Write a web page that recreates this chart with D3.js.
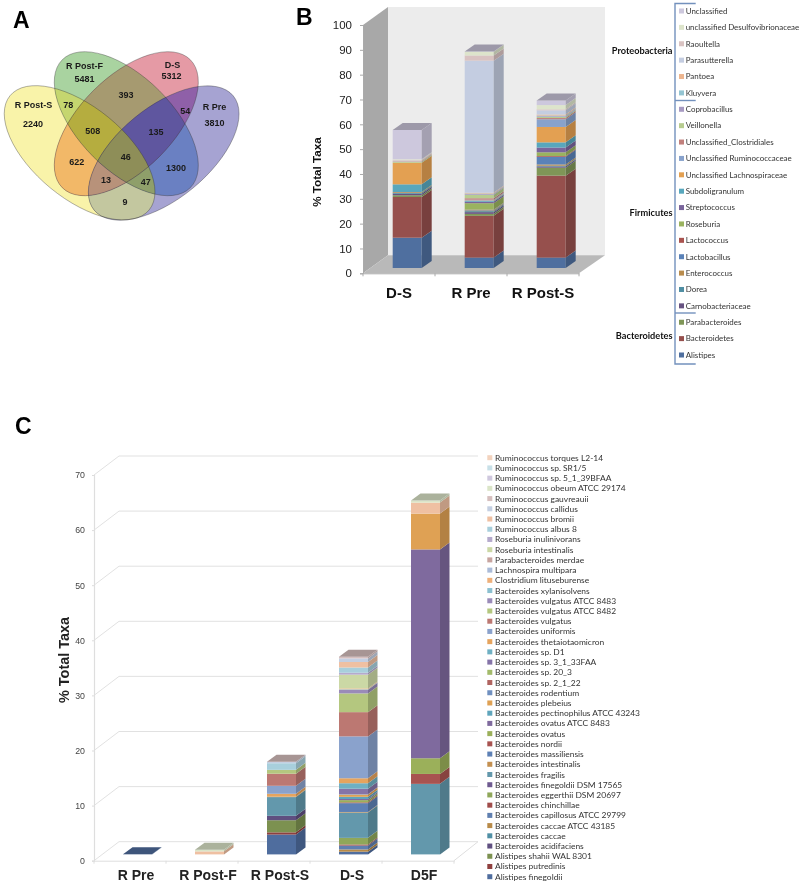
<!DOCTYPE html>
<html><head><meta charset="utf-8">
<script src="https://cdnjs.cloudflare.com/ajax/libs/d3/7.8.5/d3.min.js"></script>
<style>html,body{margin:0;padding:0;background:#fff}svg{display:block;filter:blur(0.3px)}</style>
</head><body><svg id="c" width="800" height="885"></svg>
<script>
// ---------- Panel A data
const vennSets = ["R Post-S","R Post-F","D-S","R Pre"];
const vennSetCounts = [2240,5481,5312,3810];
const vennOverlapCounts = [78,393,54,508,135,622,46,1300,13,47,9];

// ---------- Panel B data
const categoriesB = ["D-S","R Pre","R Post-S"];
const yTicksB = [0,10,20,30,40,50,60,70,80,90,100];
const taxaB = ["Alistipes","Bacteroidetes","Parabacteroides","Carnobacteriaceae","Dorea","Enterococcus","Lactobacillus","Lactococcus","Roseburia","Streptococcus","Subdoligranulum","Unclassified Lachnospiraceae","Unclassified Ruminococcaceae","Unclassified_Clostridiales","Veillonella","Coprobacillus","Kluyvera","Pantoea","Parasutterella","Raoultella","unclassified Desulfovibrionaceae","Unclassified"];
const valuesB_DS =     [12.2,16.4,0.7,0.6,0.4,0.3,0,0,0,0,3.1,8.7,0,0,0.4,0.2,0,0.3,0.2,0.1,0.2,11.8];
const valuesB_RPre =   [4.2,16.8,0.8,0.7,0.4,0.3,0.2,0.1,2.6,0.6,0.3,0.2,0.3,0.6,1.4,0.3,0.2,0.3,53.2,2.1,1.5,0.1];
const valuesB_RPostS = [4.2,33,3.2,0.5,0.3,0.5,3.1,0.3,1.5,1.9,2.1,6.2,3.1,0.5,0.4,0.3,0.3,0.4,1.7,0.4,1.7,1.9];
const colorsB = ["#4f6f9f","#96504d","#7f9657","#675382","#4f8ea3","#b98c4d","#5a82b8","#a9534f","#9ab35f","#7a659c","#58a7bd","#e3a052","#88a2cc","#c1807c","#b7cc90","#a79ac2","#93c4d2","#edb58f","#c4cde1","#d9c3c2","#dde4cb","#cdc8dd"];
const phylumNames = ["Proteobacteria","Firmicutes","Bacteroidetes"];

// ---------- Panel C data
const categoriesC = ["R Pre","R Post-F","R Post-S","D-S","D5F"];
const yTicksC = [0,10,20,30,40,50,60,70];
const taxaC = ["Alistipes finegoldii","Alistipes putredinis","Alistipes shahii WAL 8301","Bacteroides acidifaciens","Bacteroides caccae","Bacteroides caccae ATCC 43185","Bacteroides capillosus ATCC 29799","Bacteroides chinchillae","Bacteroides eggerthii DSM 20697","Bacteroides finegoldii DSM 17565","Bacteroides fragilis","Bacteroides intestinalis","Bacteroides massiliensis","Bacteroides nordii","Bacteroides ovatus","Bacteroides ovatus ATCC 8483","Bacteroides pectinophilus ATCC 43243","Bacteroides plebeius","Bacteroides rodentium","Bacteroides sp. 2_1_22","Bacteroides sp. 20_3","Bacteroides sp. 3_1_33FAA","Bacteroides sp. D1","Bacteroides thetaiotaomicron","Bacteroides uniformis","Bacteroides vulgatus","Bacteroides vulgatus ATCC 8482","Bacteroides vulgatus ATCC 8483","Bacteroides xylanisolvens","Clostridium lituseburense","Lachnospira multipara","Parabacteroides merdae","Roseburia intestinalis","Roseburia inulinivorans","Ruminococcus albus 8","Ruminococcus bromii","Ruminococcus callidus","Ruminococcus gauvreauii","Ruminococcus obeum ATCC 29174","Ruminococcus sp. 5_1_39BFAA","Ruminococcus sp. SR1/5","Ruminococcus torques L2-14"];
const valuesC_RPre =   [0.02,0,0,0,0,0,0,0,0,0,0,0,0,0,0,0,0,0,0,0,0,0,0,0,0,0,0,0,0,0,0,0,0,0,0,0,0,0,0,0,0,0];
const valuesC_RPostF = [0,0,0,0,0,0,0,0,0,0,0,0,0,0,0,0,0,0,0,0,0,0,0,0,0,0,0,0,0,0,0,0,0,0,0,0.55,0,0,0.3,0,0,0];
const valuesC_RPostS = [3.6,0.4,2.2,0.8,0,0,0,0,0,0,3.4,0.1,0,0,0,0,0,0,0,0,0,0,0,0.5,1.45,2.2,0.7,0,0,0,0,0,0,0,1.2,0,0.25,0.02,0,0,0,0];
const valuesC_DS =     [0.5,0,0,0,0,0.4,0.7,0.2,1.2,0,4.6,0.1,1.6,0.15,0.4,0.2,0.4,0.4,0.07,0,0,1.0,1.0,0.9,7.6,4.4,3.4,0.65,0.1,0.15,0,0,2.5,0.35,0.95,1.0,0.65,0.3,0,0,0,0];
const valuesC_D5F =    [0,0,0,0,0,0,0,0,0,0,12.8,0,0,1.8,2.85,37.9,0,6.5,0,0,0,0,0,0,0,0,0,0,0,0,0,0,0,0,0,2.0,0,0,0.36,0,0,0];
const colorsC = ["#4f6d9e","#8f3f3e","#7c9150","#5f4f80","#4f8fa5","#b88a48","#5f7fb0","#a04c4a","#8fa75a","#6e5a90","#6398ac","#c49050","#5d80b5","#a85350","#9bb05a","#7f6a9e","#5fa5bc","#dfa154","#7090c0","#b06460","#a3bb6b","#8574a8","#6fb0c3","#e6a45e","#8aa2cc","#bc7872","#b4c77f","#9a8bb8","#8cc0d0","#eeb07a","#aabbd8","#c7a49f","#cbd8a5","#b5aacc","#a8cfdc","#efc0a2","#c4cfe2","#d6bfbe","#dbe5c8","#cfc8de","#c8e0e8","#f3d3be"];

// ---------- helpers
const svg = d3.select("#c");
const SANS = "'Liberation Sans',Arial,sans-serif", LAT = "Lato,'Open Sans',sans-serif";
const txt = (g,x,y,s,o={}) => g.append("text").attr("x",x).attr("y",y).text(s)
  .attr("font-family",o.f||SANS).attr("font-size",o.s||10).attr("font-weight",o.w||"normal")
  .attr("fill",o.c||"#1a1a1a").attr("text-anchor",o.a||"start");
const poly = pts => pts.map(p=>p.join(",")).join(" ");
const shade = (c,k) => d3.rgb(c).darker(k).formatHex();

function stackBars(g, cats, keys, colors, series, x, y, o){
  const rows = cats.map((c,i)=>{const r={cat:c}; keys.forEach((k,j)=>r[k]=series[i][j]); return r;});
  const layers = d3.stack().keys(keys)(rows);
  cats.forEach((c,i)=>{
    const bar = g.append("g").attr("class","bar");
    const x0 = x(c)+o.shiftX, w = o.barW, dx = o.depthX, dy = o.depthY;
    let top = null;
    layers.forEach((l,j)=>{
      const d = l[i]; if(d[1]-d[0] <= 0) return;
      const y0 = y(d[0])-o.shiftY, y1 = y(d[1])-o.shiftY;
      bar.append("rect").attr("x",x0).attr("y",y1).attr("width",w).attr("height",y0-y1).attr("fill",colors[j]);
      bar.append("polygon").attr("points",poly([[x0+w,y0],[x0+w+dx,y0-dy],[x0+w+dx,y1-dy],[x0+w,y1]])).attr("fill",shade(colors[j],o.sideK));
      top = {y:y1,c:colors[j]};
    });
    bar.append("polygon").attr("points",poly([[x0,top.y],[x0+dx,top.y-dy],[x0+w+dx,top.y-dy],[x0+w,top.y]])).attr("fill",shade(top.c,o.topK));
  });
}

// ---------- Panel A
const A = svg.append("g");
txt(A,13,28,"A",{s:23,w:"bold",c:"#000"});
const vennShapes = [
 {cx:79.6,cy:152.8,a:90,b:45.7,r:39.4},
 {cx:126.3,cy:123.7,a:90.5,b:46.7,r:45},
 {cx:126.3,cy:123.7,a:90.5,b:46.7,r:-45},
 {cx:163.7,cy:153,a:90,b:45.7,r:-39.4}];
// colour of each region, keyed by the indexes of the ellipses that overlap there; smaller sets first
const vennRegionFills = [
 [[0],"#f9f3a9"],[[1],"#a9d3a0"],[[2],"#e59aa5"],[[3],"#a6a3d2"],
 [[0,1],"#c5d66f"],[[0,2],"#f2b868"],[[0,3],"#c3c79f"],[[1,2],"#a69a70"],[[1,3],"#6a80c2"],[[2,3],"#8f60a8"],
 [[0,1,2],"#b5ad3f"],[[0,1,3],"#8f9f6a"],[[0,2,3],"#b8927a"],[[1,2,3],"#5f569f"],
 [[0,1,2,3],"#8e8e58"]];
const ellipseAttrs = (sel,d)=>sel.attr("rx",d.a).attr("ry",d.b).attr("transform",`translate(${d.cx},${d.cy}) rotate(${d.r})`);
const defs = svg.append("defs");
vennShapes.forEach((d,i)=>ellipseAttrs(defs.append("clipPath").attr("id","ve"+i).append("ellipse"),d));
vennRegionFills.forEach(([set,fill])=>{
  let host = A;
  set.slice(0,-1).forEach(i=>{host = host.append("g").attr("clip-path",`url(#ve${i})`);});
  ellipseAttrs(host.append("ellipse"),vennShapes[set[set.length-1]]).attr("fill",fill);
});
vennShapes.forEach(d=>ellipseAttrs(A.append("ellipse"),d).attr("fill","none").attr("stroke","#333").attr("stroke-opacity",0.5).attr("stroke-width",0.7));
const vennNamePos = [[33.5,104.5],[84.5,66],[172.5,64.5],[214.5,107]];
const vennCountPos = [[33,124],[84.5,79],[171.5,76],[214.5,122.5]];
const vennOverlapPos = [[68.3,105],[126,95],[185.3,111],[92.7,130.5],[156,132],[76.7,162],[125.7,157],[176,167.5],[106,180],[145.7,182],[125,202]];
const vt = (x,y,s)=>txt(A,x,y+3.2,s,{s:9,w:"bold",a:"middle"});
vennSets.forEach((s,i)=>{vt(...vennNamePos[i],s); vt(...vennCountPos[i],vennSetCounts[i]);});
vennOverlapCounts.forEach((v,i)=>vt(...vennOverlapPos[i],v));

// ---------- Panel B
const B = svg.append("g");
txt(B,296,25,"B",{s:23,w:"bold",c:"#000"});
const yB = d3.scaleLinear().domain([0,100]).range([273.3,25]);
const xB = d3.scaleBand().domain(categoriesB).range([363,579]);
const wallX = 25, wallY = 18;
B.append("polygon").attr("points",poly([[363,yB(100)],[363+wallX,yB(100)-wallY],[363+wallX,yB(0)-wallY],[363,yB(0)]])).attr("fill","#a8a8a8");
B.append("polygon").attr("points",poly([[363+wallX,yB(100)-wallY],[579+wallX+1,yB(100)-wallY],[579+wallX+1,yB(0)-wallY],[363+wallX,yB(0)-wallY]])).attr("fill","#ececec");
B.append("polygon").attr("points",poly([[363,yB(0)],[363+wallX,yB(0)-wallY],[579+wallX+1,yB(0)-wallY],[579,yB(0)]])).attr("fill","#b9b9b9");
const axYB = d3.axisLeft(yB).tickValues(yTicksB).tickSize(3).tickPadding(8);
const gYB = B.append("g").attr("transform","translate(363,0)").call(axYB);
gYB.selectAll("text").attr("font-family",SANS).attr("font-size",11.5).attr("fill","#222");
gYB.selectAll("line,path").attr("stroke","#aaa");
const axXB = d3.axisBottom(xB).tickSize(0).tickPadding(14);
const gXB = B.append("g").attr("transform",`translate(0,${yB(0)})`).call(axXB);
gXB.select("path").attr("stroke","#aaa");
gXB.selectAll("text").attr("font-family",SANS).attr("font-size",15).attr("font-weight","bold").attr("fill","#111");
B.selectAll(".tb").data(xB.domain().concat("end")).join("line").attr("class","tb")
 .attr("x1",d=>d==="end"?xB.range()[1]:xB(d)).attr("x2",d=>d==="end"?xB.range()[1]:xB(d))
 .attr("y1",yB(0)).attr("y2",yB(0)+3).attr("stroke","#aaa");
txt(B,0,0,"% Total Taxa",{s:11.7,w:"bold",a:"middle",c:"#111"}).attr("x",null).attr("y",null).attr("transform","translate(320.5,172) rotate(-90)");
stackBars(B,categoriesB,taxaB,colorsB,[valuesB_DS,valuesB_RPre,valuesB_RPostS],xB,yB,
 {shiftX:29.7,barW:29,depthX:10,depthY:7,shiftY:5.3,sideK:0.62,topK:0.75});

// legend B
const lyB = d3.scalePoint().domain(taxaB.slice().reverse()).range([11,355]);
const LB = B.append("g");
LB.selectAll("rect").data(taxaB).join("rect").attr("x",679).attr("width",5).attr("height",5)
 .attr("y",d=>lyB(d)-2.5).attr("fill",(d,i)=>colorsB[i]);
taxaB.forEach(t=>txt(LB,685.7,lyB(t)+2.8,t,{f:LAT,s:7.95,c:"#333"}));
const bracket = [[695.7,3.5],[675,3.5],[675,364],[695.7,364]];
LB.append("polyline").attr("points",poly(bracket)).attr("fill","none").attr("stroke","#7391bd").attr("stroke-width",1.4);
[100.5,313].forEach(y=>LB.append("line").attr("x1",675).attr("x2",695.7).attr("y1",y).attr("y2",y).attr("stroke","#7391bd").attr("stroke-width",1.4));
[[51],[213],[336]].forEach((p,i)=>txt(LB,672.5,p[0]+3,phylumNames[i],{f:LAT,s:9.2,w:"bold",a:"end",c:"#111"}));

// ---------- Panel C
const C = svg.append("g");
txt(C,15,434,"C",{s:23,w:"bold",c:"#000"});
const yC = d3.scaleLinear().domain([0,70]).range([860.7,475]);
const xC = d3.scaleBand().domain(categoriesC).range([94,454]);
const wX = 25, wY = 19;
const gridC = C.append("g").attr("stroke","#dedede").attr("fill","none");
yTicksC.forEach(v=>{
  gridC.append("polyline").attr("points",poly([[94,yC(v)],[94+wX,yC(v)-wY],[454+wX-1,yC(v)-wY]])).attr("stroke-width",0.9);
});
gridC.append("line").attr("x1",454).attr("y1",yC(0)).attr("x2",454+wX-1).attr("y2",yC(0)-wY);
const axYC = d3.axisLeft(yC).tickValues(yTicksC).tickSize(2).tickPadding(7);
const gYC = C.append("g").attr("transform","translate(94,0)").call(axYC);
gYC.selectAll("text").attr("font-family",SANS).attr("font-size",8.8).attr("fill","#444");
gYC.selectAll("line").attr("stroke","#ddd"); gYC.select("path").attr("stroke","#dedede").attr("stroke-width",1.2);
const axXC = d3.axisBottom(xC).tickSize(0).tickPadding(9);
const gXC = C.append("g").attr("transform",`translate(0,${yC(0)})`).call(axXC);
gXC.select("path").attr("stroke","#dedede");
gXC.selectAll("text").attr("font-family",SANS).attr("font-size",14).attr("font-weight","bold").attr("fill","#222").attr("dx",6);
C.selectAll(".tc").data(categoriesC.concat("end")).join("line").attr("class","tc")
 .attr("x1",d=>d==="end"?454:xC(d)).attr("x2",d=>d==="end"?454:xC(d)).attr("y1",yC(0)).attr("y2",yC(0)+3).attr("stroke","#dedede");
txt(C,0,0,"% Total Taxa",{s:14.4,w:"bold",a:"middle",c:"#222"}).attr("x",null).attr("y",null).attr("transform","translate(69,660) rotate(-90)");
stackBars(C,categoriesC,taxaC,colorsC,[valuesC_RPre,valuesC_RPostF,valuesC_RPostS,valuesC_DS,valuesC_D5F],xC,yC,
 {shiftX:29,barW:29,depthX:9.5,depthY:7,shiftY:6.3,sideK:0.62,topK:0.7});

// legend C
const lyC = d3.scalePoint().domain(taxaC.slice().reverse()).range([457.7,876.7]);
const LC = C.append("g");
LC.selectAll("rect").data(taxaC).join("rect").attr("x",487.3).attr("width",5).attr("height",5)
 .attr("y",d=>lyC(d)-2.5).attr("fill",(d,i)=>colorsC[i]);
taxaC.forEach(t=>txt(LC,495,lyC(t)+3,t,{f:LAT,s:8.45,c:"#333"}));
</script></body></html>
